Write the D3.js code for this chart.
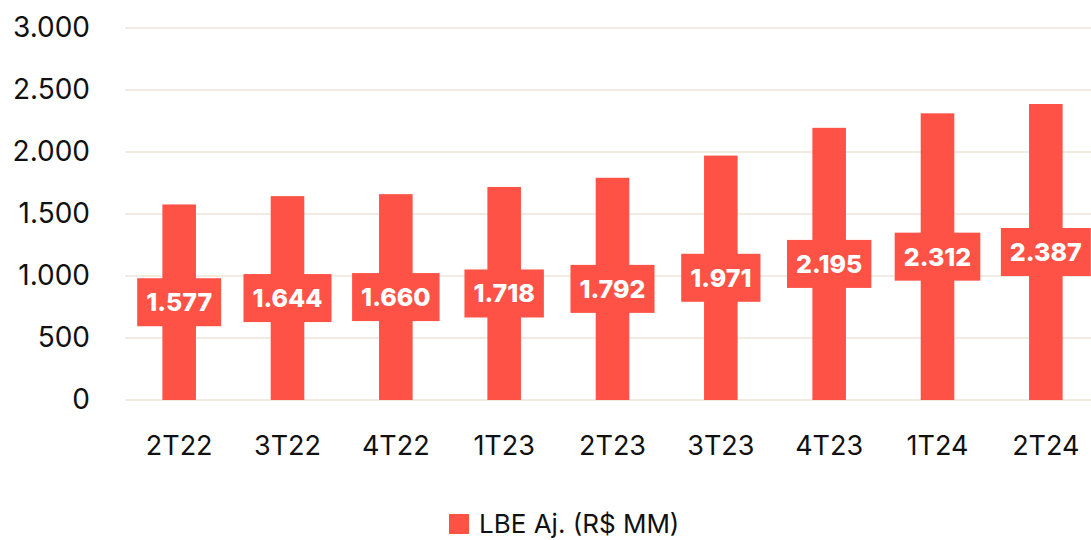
<!DOCTYPE html>
<html><head><meta charset="utf-8">
<script src="https://cdn.jsdelivr.net/npm/d3@7"></script>
<style>body{margin:0;background:#fff}svg{display:block}</style>
</head><body>
<svg id="c" width="1091" height="540"></svg>
<script>
const categories = ["2T22","3T22","4T22","1T23","2T23","3T23","4T23","1T24","2T24"];
const values = [1577,1644,1660,1718,1792,1971,2195,2312,2387];
const yTicks = [0,500,1000,1500,2000,2500,3000];
const seriesName = "LBE Aj. (R$ MM)";

const color = "#FF5247";
const font = "Inter, 'Open Sans', sans-serif";
const fmt = v => d3.format(",")(v).replace(/,/g, ".");

const svg = d3.select("#c");
const x = d3.scaleBand().domain(categories).range([125, 1100]).paddingInner(0.69).paddingOuter(0.345);
const y = d3.scaleLinear().domain([0, 3000]).range([400, 28]);

// grid
svg.append("g").selectAll("line").data(yTicks).join("line")
  .attr("x1", 125).attr("x2", 1091)
  .attr("y1", d => y(d)).attr("y2", d => y(d))
  .attr("stroke", "#F3EAE1").attr("stroke-width", 2);

// y axis labels
const yAxis = svg.append("g").attr("transform", "translate(90,0)")
  .call(d3.axisLeft(y).tickValues(yTicks).tickFormat(fmt).tickSize(0).tickPadding(0));
yAxis.select(".domain").remove();
yAxis.selectAll("text").attr("font-family", font).attr("font-size", 28).attr("fill", "#111");

// x axis labels
const xAxis = svg.append("g").attr("transform", "translate(0,446)")
  .call(d3.axisBottom(x).tickSize(0).tickPadding(0));
xAxis.select(".domain").remove();
xAxis.selectAll("text").attr("font-family", font).attr("font-size", 27).attr("fill", "#111")
  .attr("dy", "0.35em");

// bars
svg.append("g").selectAll("rect").data(values).join("rect")
  .attr("x", (d, i) => x(categories[i]))
  .attr("width", x.bandwidth())
  .attr("y", d => y(d))
  .attr("height", d => y(0) - y(d))
  .attr("fill", color);

// labels
const lg = svg.append("g").selectAll("g").data(values).join("g")
  .attr("transform", (d, i) => `translate(${x(categories[i]) + x.bandwidth() / 2},${(y(d) + y(0)) / 2})`);
lg.append("rect").attr("fill", color);
lg.append("text").text(d => fmt(d))
  .attr("text-anchor", "middle").attr("dy", "0.36em")
  .attr("font-family", font).attr("font-weight", 800).attr("font-size", 25).attr("fill", "#fff");
lg.each(function() {
  const g = d3.select(this);
  const w = g.select("text").node().getComputedTextLength() + 18;
  g.select("rect").attr("x", -w / 2).attr("width", w).attr("y", -24).attr("height", 48);
});

// legend
const leg = svg.append("g").attr("transform", "translate(449,514)");
leg.append("rect").attr("width", 20).attr("height", 20).attr("fill", color);
leg.append("text").attr("x", 30).attr("y", 10).attr("dy", "0.35em").text(seriesName)
  .attr("font-family", font).attr("font-size", 26).attr("fill", "#111");
</script>
</body></html>
